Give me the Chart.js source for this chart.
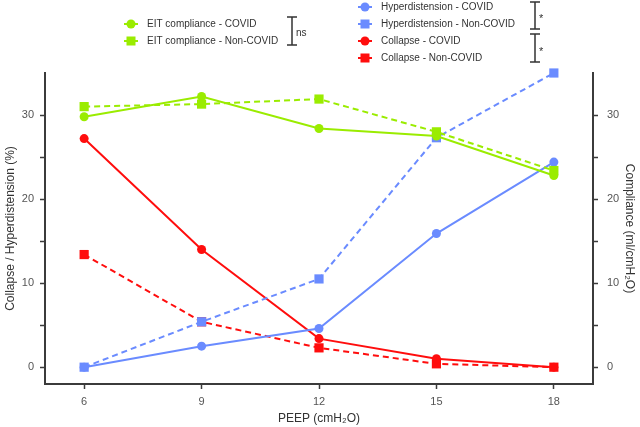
<!DOCTYPE html>
<html>
<head>
<meta charset="utf-8">
<script src="https://cdn.jsdelivr.net/npm/chart.js@4.4.1/dist/chart.umd.min.js"></script>
<style>
  body { margin: 0; background: #fff; }
  #wrap { position: relative; width: 640px; height: 427px; }
</style>
</head>
<body>
<div id="wrap"><canvas id="chart" width="640" height="427"></canvas></div>
<script>
const peep = [6, 9, 12, 15, 18];
const xTicks = [6, 9, 12, 15, 18];
const yTicks = [0, 5, 10, 15, 20, 25, 30];

const eitCovid = [29.8, 32.2, 28.4, 27.5, 22.8];
const eitNonCovid = [31.0, 31.3, 31.9, 28.0, 23.4];
const hyperCovid = [0, 2.5, 4.6, 15.9, 24.4];
const hyperNonCovid = [0, 5.4, 10.5, 27.3, 35.0];
const collapseCovid = [27.2, 14.0, 3.4, 1.0, 0];
const collapseNonCovid = [13.4, 5.4, 2.3, 0.4, 0];

const GREEN = "#9aec00";
const BLUE = "#6a8bff";
const RED = "#ff0d0d";
const AXIS = "#3b3b3b";
const FONT = "'Liberation Sans', Arial, Helvetica, sans-serif";

const pts = (vals) => peep.map((p, i) => ({ x: p, y: vals[i] }));

function series(label, vals, color, covid, axis) {
  return {
    label,
    data: pts(vals),
    yAxisID: axis,
    borderColor: color,
    backgroundColor: color,
    borderWidth: 2,
    borderDash: covid ? [] : [6, 4],
    pointStyle: covid ? "circle" : "rect",
    pointRadius: covid ? 4.5 : 6.5,
    pointBorderWidth: 0,
    tension: 0,
    clip: false,
  };
}

const datasets = [
  series("EIT compliance - COVID", eitCovid, GREEN, true, "y1"),
  series("EIT compliance - Non-COVID", eitNonCovid, GREEN, false, "y1"),
  series("Hyperdistension - COVID", hyperCovid, BLUE, true, "y"),
  series("Hyperdistension - Non-COVID", hyperNonCovid, BLUE, false, "y"),
  series("Collapse - COVID", collapseCovid, RED, true, "y"),
  series("Collapse - Non-COVID", collapseNonCovid, RED, false, "y"),
];

// legend groups: which datasets, where, and the significance brackets
const legendGroups = [
  { x: 131, y: 24, items: [0, 1], brackets: [{ x: 292, top: 17, bottom: 45, text: "ns", ty: 33, size: 10 }] },
  { x: 365, y: 7, items: [2, 3, 4, 5], brackets: [
    { x: 535, top: 2, bottom: 29, text: "*", ty: 19, size: 11 },
    { x: 535, top: 34, bottom: 62, text: "*", ty: 52, size: 11 },
  ] },
];

const legendPlugin = {
  id: "customLegend",
  afterDraw(chart) {
    const ctx = chart.ctx;
    ctx.save();
    ctx.textBaseline = "middle";
    legendGroups.forEach(g => {
      g.items.forEach((di, row) => {
        const ds = chart.data.datasets[di];
        const y = g.y + row * 17;
        ctx.strokeStyle = ds.borderColor;
        ctx.fillStyle = ds.borderColor;
        ctx.lineWidth = 2;
        ctx.setLineDash([]);
        ctx.beginPath();
        ctx.moveTo(g.x - 7, y);
        ctx.lineTo(g.x + 7, y);
        ctx.stroke();
        if (ds.pointStyle === "circle") {
          ctx.beginPath();
          ctx.arc(g.x, y, 4.5, 0, Math.PI * 2);
          ctx.fill();
        } else {
          ctx.fillRect(g.x - 4.5, y - 4.5, 9, 9);
        }
        ctx.fillStyle = "#333";
        ctx.textAlign = "left";
        ctx.font = `10px ${FONT}`;
        ctx.fillText(ds.label, g.x + 16, y + 0.5);
      });
      g.brackets.forEach(b => {
        ctx.strokeStyle = "#333";
        ctx.lineWidth = 1.5;
        ctx.beginPath();
        ctx.moveTo(b.x - 5, b.top); ctx.lineTo(b.x + 5, b.top);
        ctx.moveTo(b.x, b.top); ctx.lineTo(b.x, b.bottom);
        ctx.moveTo(b.x - 5, b.bottom); ctx.lineTo(b.x + 5, b.bottom);
        ctx.stroke();
        ctx.fillStyle = "#333";
        ctx.textAlign = "left";
        ctx.font = `${b.size}px ${FONT}`;
        ctx.fillText(b.text, b.x + 4, b.ty);
      });
    });
    ctx.restore();
  },
};

function yScale(position, title, width, pad) {
  return {
    type: "linear",
    position,
    min: -2,
    max: 35,
    afterBuildTicks: s => { s.ticks = yTicks.map(v => ({ value: v })); },
    afterFit: s => { s.width = width; },
    ticks: {
      color: "#555",
      font: { family: FONT, size: 11 },
      padding: pad,
      callback: v => (v % 10 === 0 ? v : ""),
    },
    grid: { drawOnChartArea: false, drawTicks: true, tickLength: 5, tickColor: AXIS, tickWidth: 1.5 },
    border: { display: true, color: AXIS, width: 2 },
    title: { display: true, text: title, color: "#333", font: { family: FONT, size: 12 }, padding: { top: 3, bottom: 3 } },
  };
}

new Chart(document.getElementById("chart"), {
  type: "line",
  data: { datasets },
  options: {
    responsive: false,
    animation: false,
    layout: { padding: { top: 73, left: 0, right: 0, bottom: 0 } },
    plugins: { legend: { display: false }, tooltip: { enabled: false } },
    scales: {
      x: {
        type: "linear",
        min: 5,
        max: 19,
        afterBuildTicks: s => { s.ticks = xTicks.map(v => ({ value: v })); },
        afterFit: s => { s.height = 43; },
        ticks: { color: "#555", font: { family: FONT, size: 11 }, padding: 6 },
        grid: { drawOnChartArea: false, drawTicks: true, tickLength: 5, tickColor: AXIS, tickWidth: 1.5 },
        border: { display: true, color: AXIS, width: 2 },
        title: { display: true, text: "PEEP (cmH₂O)", color: "#333", font: { family: FONT, size: 12 }, padding: { top: 2, bottom: 1 } },
      },
      y: yScale("left", "Collapse / Hyperdistension (%)", 45, 6),
      y1: yScale("right", "Compliance (ml/cmH₂O)", 47, 9),
    },
  },
  plugins: [legendPlugin],
});
</script>
</body>
</html>
